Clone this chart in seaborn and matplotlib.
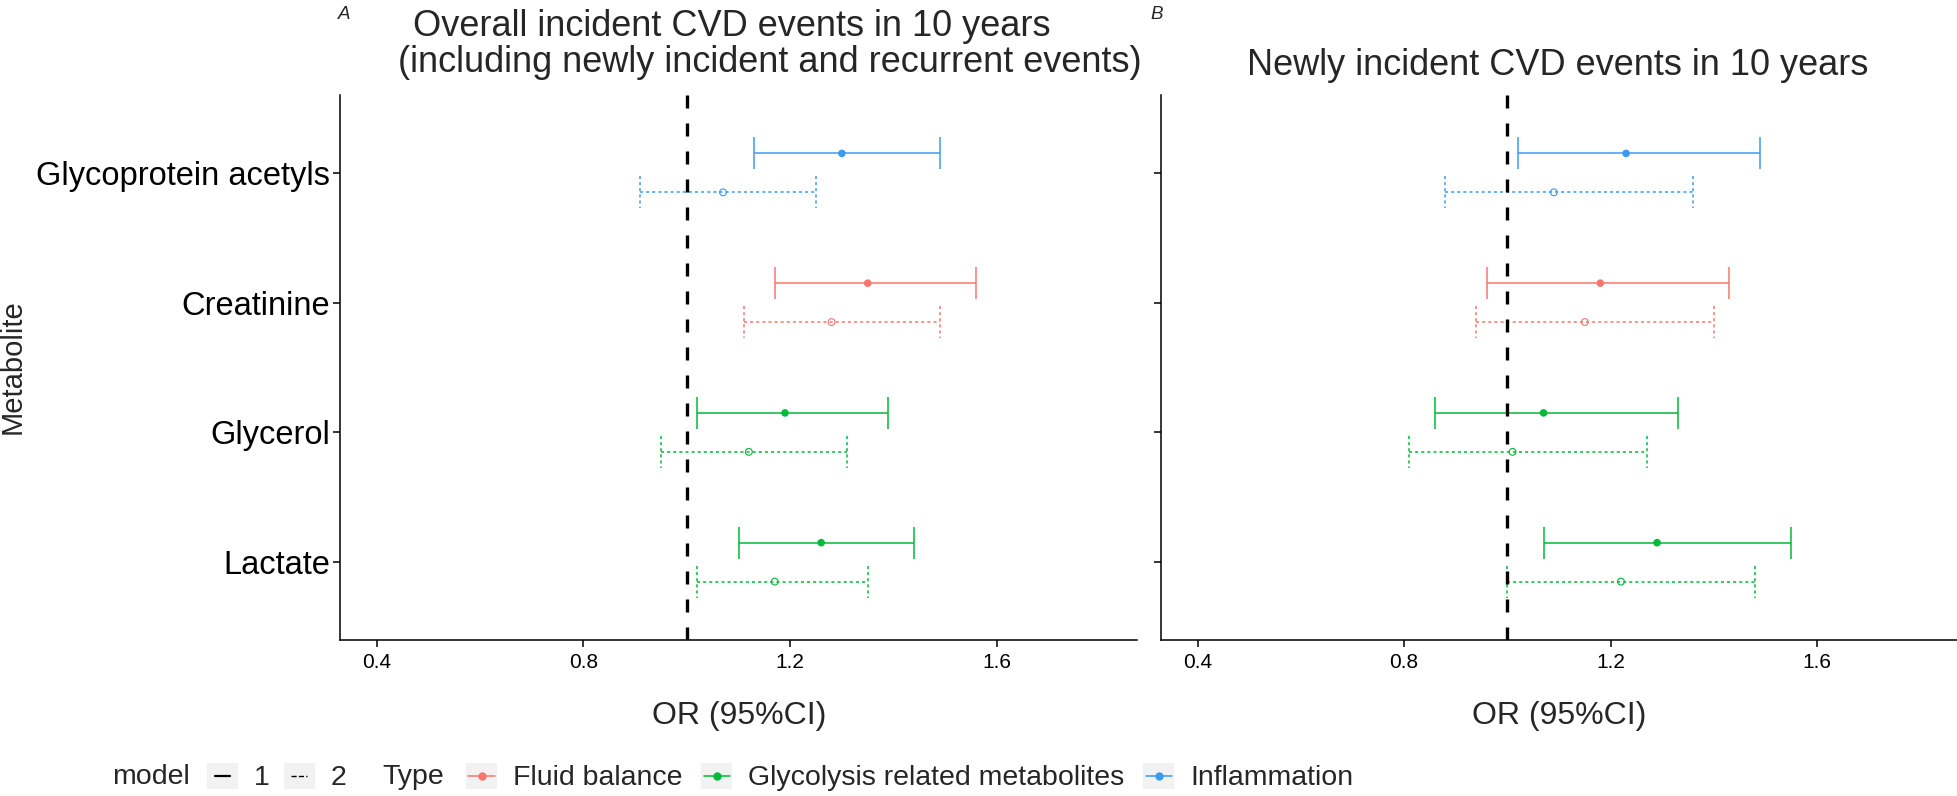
import numpy as np
import pandas as pd
import matplotlib
matplotlib.use("Agg")
import matplotlib.pyplot as plt
import seaborn as sns
from matplotlib.legend_handler import HandlerBase
from matplotlib.lines import Line2D
from matplotlib.patches import Rectangle

# ---- data ----
metabolites = ["Glycoprotein acetyls", "Creatinine", "Glycerol", "Lactate"]
met_types = ["Inflammation", "Fluid balance",
             "Glycolysis related metabolites", "Glycolysis related metabolites"]

# panel A: overall incident CVD events
a_or_m1 = [1.30, 1.35, 1.19, 1.26]
a_lo_m1 = [1.13, 1.17, 1.02, 1.10]
a_hi_m1 = [1.49, 1.56, 1.39, 1.44]
a_or_m2 = [1.07, 1.28, 1.12, 1.17]
a_lo_m2 = [0.91, 1.11, 0.95, 1.02]
a_hi_m2 = [1.25, 1.49, 1.31, 1.35]

# panel B: newly incident CVD events
b_or_m1 = [1.23, 1.18, 1.07, 1.29]
b_lo_m1 = [1.02, 0.96, 0.86, 1.07]
b_hi_m1 = [1.49, 1.43, 1.33, 1.55]
b_or_m2 = [1.09, 1.15, 1.01, 1.22]
b_lo_m2 = [0.88, 0.94, 0.81, 1.00]
b_hi_m2 = [1.36, 1.40, 1.27, 1.48]

x_ticks = [0.4, 0.8, 1.2, 1.6]
palette = {"Fluid balance": "#F8766D",
           "Glycolysis related metabolites": "#00BA38",
           "Inflammation": "#3A9BF5"}

W, H = 1958, 796
sns.set_style("ticks")
plt.rcParams["font.family"] = ["Liberation Sans", "DejaVu Sans"]
plt.rcParams["axes.edgecolor"] = "black"
plt.rcParams["xtick.color"] = "black"
plt.rcParams["ytick.color"] = "black"


def panel_frame(or1, lo1, hi1, or2, lo2, hi2):
    df = pd.DataFrame({
        "Metabolite": metabolites * 2,
        "Type": met_types * 2,
        "model": ["1"] * 4 + ["2"] * 4,
        "OR": or1 + or2,
        "lo": lo1 + lo2,
        "hi": hi1 + hi2,
    })
    pos = df["Metabolite"].map({m: i for i, m in enumerate(metabolites)})
    df["y"] = pos + np.where(df["model"] == "1", -0.15, 0.15)
    return df


def draw_panel(ax, df, show_labels):
    cap = 0.123
    styles = {"1": "-", "2": (0, (2, 2))}
    for model, ls in styles.items():
        sub = df[df["model"] == model]
        cols = sub["Type"].map(palette).tolist()
        ax.hlines(sub["y"], sub["lo"], sub["hi"], colors=cols, linestyles=ls, lw=1.1, zorder=2)
        ax.vlines(sub["lo"], sub["y"] - cap, sub["y"] + cap, colors=cols, linestyles=ls, lw=1.1, zorder=2)
        ax.vlines(sub["hi"], sub["y"] - cap, sub["y"] + cap, colors=cols, linestyles=ls, lw=1.1, zorder=2)

    ax.axvline(1, color="black", lw=2.4, ls=(0, (3.9, 4.5)), zorder=3)

    sns.scatterplot(data=df[df["model"] == "1"], x="OR", y="y", hue="Type",
                    palette=palette, s=30, linewidth=0, legend=False, ax=ax, zorder=4)
    n_before = len(ax.collections)
    sns.scatterplot(data=df[df["model"] == "2"], x="OR", y="y", hue="Type",
                    palette=palette, s=24, linewidth=0.8, legend=False, ax=ax, zorder=4)
    hollow = ax.collections[n_before]
    hollow.set_edgecolor(hollow.get_facecolors())
    hollow.set_facecolor("none")

    ax.set_xlim(0.329, 1.871)
    ax.set_ylim(3.6, -0.6)
    ax.set_xticks(x_ticks)
    ax.set_xticklabels([str(t) for t in x_ticks], fontsize=15)
    ax.set_yticks(range(len(metabolites)))
    ax.set_yticklabels(metabolites if show_labels else [], fontsize=23.5)
    ax.tick_params(axis="both", length=5, width=1.1)
    ax.tick_params(axis="x", pad=4)
    ax.tick_params(axis="y", pad=2)
    ax.set_xlabel("")
    ax.set_ylabel("")
    for sp in ["left", "bottom"]:
        ax.spines[sp].set_linewidth(1.1)
    sns.despine(ax=ax)


fig = plt.figure(figsize=(W / 100, H / 100), dpi=100)
axA = fig.add_axes([340 / W, 1 - 640 / H, 797 / W, 545 / H])
axB = fig.add_axes([1161 / W, 1 - 640 / H, 796 / W, 545 / H])

draw_panel(axA, panel_frame(a_or_m1, a_lo_m1, a_hi_m1, a_or_m2, a_lo_m2, a_hi_m2), True)
draw_panel(axB, panel_frame(b_or_m1, b_lo_m1, b_hi_m1, b_or_m2, b_lo_m2, b_hi_m2), False)

# titles, panel tags, axis labels
fig.text(732 / W, 1 - 36 / H, "Overall incident CVD events in 10 years",
         ha="center", va="baseline", fontsize=26)
fig.text(770 / W, 1 - 72 / H, "(including newly incident and recurrent events)",
         ha="center", va="baseline", fontsize=26)
fig.text(1558 / W, 1 - 75 / H, "Newly incident CVD events in 10 years",
         ha="center", va="baseline", fontsize=26)
fig.text(338 / W, 1 - 19 / H, "A", style="italic", fontsize=13.5, ha="left", va="baseline")
fig.text(1150 / W, 1 - 19 / H, "B", style="italic", fontsize=13.5, ha="left", va="baseline")
fig.text(739 / W, 1 - 716 / H, "OR (95%CI)", ha="center", va="center", fontsize=23)
fig.text(1559 / W, 1 - 716 / H, "OR (95%CI)", ha="center", va="center", fontsize=23)
fig.text(13 / W, 1 - 367 / H, "Metabolite", rotation=90, ha="center", va="center", fontsize=21)


# legend keys with grey background like ggplot
class KeyHandler(HandlerBase):
    def create_artists(self, legend, orig_handle, xdescent, ydescent,
                       width, height, fontsize, trans):
        bg = Rectangle((-xdescent, -ydescent), width, height,
                       facecolor="#F2F2F2", edgecolor="none", transform=trans)
        has_marker = orig_handle.get_marker() not in (None, "None", "")
        frac = 0.85 if has_marker else 0.5
        cx = -xdescent + width / 2
        cy = -ydescent + height / 2
        ln = Line2D([cx - frac * width / 2, cx + frac * width / 2], [cy, cy],
                    color=orig_handle.get_color(), ls=orig_handle.get_linestyle(),
                    lw=orig_handle.get_linewidth(), transform=trans)
        arts = [bg, ln]
        if has_marker:
            arts.append(Line2D([cx], [cy], marker="o", ms=5, color=orig_handle.get_color(),
                               ls="none", transform=trans))
        return arts


leg_y = 1 - 777 / H
leg_kw = dict(frameon=False, fontsize=20.5, handlelength=1.09, handleheight=1.05,
              handletextpad=0.55, borderpad=0, borderaxespad=0,
              handler_map={Line2D: KeyHandler()})

fig.text(112 / W, leg_y, "model", ha="left", va="center", fontsize=20.5)
model_handles = [Line2D([], [], color="black", lw=1.6, ls="-"),
                 Line2D([], [], color="black", lw=1.0, ls=(0, (1, 1.2)))]
fig.legend(model_handles, ["1", "2"], loc="center left", bbox_to_anchor=(207 / W, leg_y),
           ncol=2, columnspacing=0.5, **leg_kw)

fig.text(382 / W, leg_y, "Type", ha="left", va="center", fontsize=20.5)
type_names = list(palette.keys())
type_handles = [Line2D([], [], color=palette[t], lw=1.1, marker="o") for t in type_names]
fig.legend(type_handles, type_names, loc="center left", bbox_to_anchor=(466 / W, leg_y),
           ncol=3, columnspacing=0.67, **leg_kw)

fig.savefig("out.png", dpi=100)
